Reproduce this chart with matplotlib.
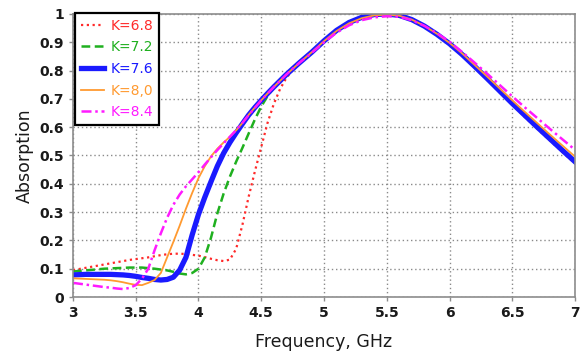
"""
Absorption vs frequency for several K values (recreated chart)
"""

import matplotlib
matplotlib.use("Agg")
import matplotlib.pyplot as plt
import numpy as np

# frequency grid, GHz
freq = [3.0, 3.05, 3.1, 3.15, 3.2, 3.25, 3.3, 3.35, 3.4, 3.45,
        3.5, 3.55, 3.6, 3.65, 3.7, 3.75, 3.8, 3.85, 3.9, 3.95,
        4.0, 4.05, 4.1, 4.15, 4.2, 4.25, 4.3, 4.35, 4.4, 4.45,
        4.5, 4.55, 4.6, 4.65, 4.7, 4.75, 4.8,
        4.9, 5.0, 5.1, 5.2, 5.3, 5.4, 5.5, 5.6, 5.7, 5.8,
        5.9, 6.0, 6.1, 6.2, 6.3, 6.4, 6.5, 6.6, 6.7, 6.8, 6.9, 7.0]

abs_k68 = [0.095, 0.099, 0.103, 0.107, 0.111, 0.115, 0.119, 0.123, 0.127, 0.131,
           0.134, 0.137, 0.140, 0.144, 0.148, 0.151, 0.153, 0.153, 0.152, 0.149,
           0.146, 0.141, 0.135, 0.130, 0.127, 0.132, 0.170, 0.255, 0.355, 0.445,
           0.530, 0.615, 0.682, 0.735, 0.774, 0.802, 0.824,
           0.862, 0.903, 0.940, 0.968, 0.986, 0.996, 0.998, 0.993, 0.978, 0.955,
           0.926, 0.892, 0.853, 0.811, 0.767, 0.723, 0.679, 0.636, 0.594, 0.553, 0.512, 0.472]

abs_k72 = [0.090, 0.092, 0.094, 0.096, 0.098, 0.100, 0.101, 0.102, 0.103, 0.104,
           0.104, 0.104, 0.102, 0.100, 0.097, 0.094, 0.089, 0.083, 0.080, 0.085,
           0.100, 0.140, 0.210, 0.295, 0.365, 0.425, 0.478, 0.527, 0.578, 0.628,
           0.673, 0.710, 0.740, 0.764, 0.786, 0.806, 0.826,
           0.864, 0.905, 0.942, 0.970, 0.988, 0.998, 1.000, 0.995, 0.980, 0.957,
           0.928, 0.895, 0.857, 0.815, 0.771, 0.727, 0.683, 0.640, 0.598, 0.557, 0.516, 0.476]

abs_k76 = [0.078, 0.079, 0.080, 0.080, 0.080, 0.080, 0.080, 0.079, 0.078, 0.076,
           0.073, 0.069, 0.066, 0.062, 0.060, 0.062, 0.070, 0.095, 0.140, 0.220,
           0.292, 0.352, 0.408, 0.462, 0.508, 0.546, 0.580, 0.612, 0.643, 0.670,
           0.695, 0.719, 0.742, 0.764, 0.786, 0.806, 0.826,
           0.864, 0.905, 0.942, 0.970, 0.988, 0.998, 1.000, 0.995, 0.980, 0.957,
           0.928, 0.895, 0.857, 0.815, 0.772, 0.728, 0.684, 0.642, 0.600, 0.559, 0.518, 0.478]

abs_k80 = [0.066, 0.065, 0.064, 0.063, 0.062, 0.061, 0.059, 0.056, 0.052, 0.047,
           0.043, 0.042, 0.050, 0.060, 0.085, 0.140, 0.195, 0.252, 0.312, 0.368,
           0.420, 0.462, 0.497, 0.524, 0.546, 0.566, 0.589, 0.615, 0.644, 0.670,
           0.695, 0.719, 0.742, 0.764, 0.786, 0.806, 0.826,
           0.864, 0.904, 0.940, 0.967, 0.985, 0.995, 0.997, 0.994, 0.980, 0.958,
           0.930, 0.898, 0.861, 0.820, 0.779, 0.737, 0.695, 0.654, 0.614, 0.574, 0.535, 0.496]

abs_k84 = [0.050, 0.047, 0.044, 0.041, 0.038, 0.035, 0.033, 0.030, 0.028, 0.032,
           0.042, 0.065, 0.100, 0.165, 0.225, 0.280, 0.326, 0.362, 0.391, 0.416,
           0.441, 0.468, 0.494, 0.519, 0.543, 0.566, 0.590, 0.615, 0.643, 0.669,
           0.695, 0.719, 0.742, 0.764, 0.786, 0.806, 0.826,
           0.862, 0.900, 0.934, 0.960, 0.978, 0.988, 0.992, 0.990, 0.978, 0.958,
           0.932, 0.902, 0.866, 0.828, 0.789, 0.749, 0.709, 0.670, 0.632, 0.594, 0.557, 0.520]

labels = ["K=6.8", "K=7.2", "K=7.6", "K=8,0", "K=8.4"]
series = [abs_k68, abs_k72, abs_k76, abs_k80, abs_k84]
colors = ["#ff2a2a", "#1fb01f", "#1a1aff", "#ff9a30", "#ff1aff"]
styles = [(0, (1, 1.6)), (0, (3.5, 1.8)), "-", "-", (0, (4, 1.5, 1, 1.5))]
widths = [1.6, 1.8, 3.8, 1.3, 1.8]

plt.rcParams["font.family"] = ["DejaVu Sans"]

fig = plt.figure(figsize=(5.82, 3.54), dpi=100)
ax = fig.add_axes([0.1254, 0.161, 0.8626, 0.7995])

for y, lab, c, ls, lw in zip(series, labels, colors, styles, widths):
    ax.plot(freq, y, color=c, linestyle=ls, linewidth=lw, label=lab)

ax.set_xlim(3, 7)
ax.set_ylim(0, 1)
ax.set_xticks(np.arange(3, 7.01, 0.5))
ax.set_yticks(np.arange(0, 1.01, 0.1))
ax.set_xticklabels(["3", "3.5", "4", "4.5", "5", "5.5", "6", "6.5", "7"])
ax.set_yticklabels(["0", "0.1", "0.2", "0.3", "0.4", "0.5", "0.6", "0.7", "0.8", "0.9", "1"])
ax.grid(True, color="#8a8a8a", linestyle=(0, (1, 2)), linewidth=1.0)
for sp in ax.spines.values():
    sp.set_color("#8c8c8c")
    sp.set_linewidth(1.2)
ax.tick_params(colors="#8c8c8c", labelcolor="#1a1a1a", length=3, width=1,
               labelsize=10)
for t in ax.get_xticklabels() + ax.get_yticklabels():
    t.set_fontweight("bold")

ax.set_xlabel("Frequency, GHz", fontsize=12.5, color="#1a1a1a", labelpad=9)
ax.set_ylabel("Absorption", fontsize=12.5, color="#1a1a1a", labelpad=4)

leg = ax.legend(loc="upper left", bbox_to_anchor=(0.004, 1.003), borderaxespad=0,
                fontsize=10, handlelength=1.7, handletextpad=0.45,
                labelspacing=0.55, borderpad=0.4, fancybox=False, framealpha=1)
leg.get_frame().set_edgecolor("black")
leg.get_frame().set_linewidth(1.6)
for txt, c in zip(leg.get_texts(), colors):
    txt.set_color(c)

fig.savefig("out.png", dpi=100)
